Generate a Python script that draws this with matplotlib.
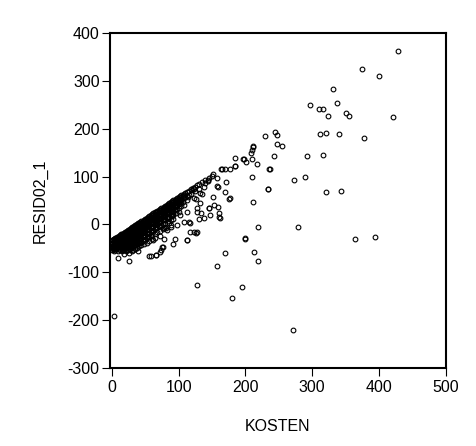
import numpy as np
import matplotlib.pyplot as plt

plt.rcParams['font.family'] = ['Liberation Sans', 'DejaVu Sans']
plt.rcParams['axes.unicode_minus'] = False

# --- DATA ---
# scattered points (KOSTEN, RESID02_1)
sparse_kosten = [429, 375.5, 401, 331, 296.5, 310.5, 316.5, 337.6, 324, 350.5, 355, 421.6,
                 244.5, 247.5, 312, 320.5, 340, 378, 247, 255.5, 242.5, 293, 316, 237.5,
                 273.5, 289.6, 321, 343.6, 234.5, 279.5, 364, 394.6, 272, 3, 127.5, 180,
                 195, 157.5, 169, 213, 218.5, 199, 219, 212, 230, 212, 210.5, 208, 184.5,
                 185, 197.5, 201.5, 210.5, 217.5, 209.5, 177.5, 170, 165, 163.5, 152, 157,
                 171.5, 169, 151.5, 143.5, 175.5, 145.5, 159.5, 160.5, 133, 89.5, 112.5,
                 126, 55, 65.5, 72.5, 9.5, 25, 17.5, 38.5, 75, 61, 77.5, 91.5, 94.5, 82.5,
                 85, 91, 102.5, 107.5, 117.5, 112.5, 127.5, 132.5, 135, 122.5, 114, 140,
                 137.5, 132.5, 122.5, 120, 158.5, 176.5, 152.5, 144, 157, 211.5, 196.5,
                 184, 235, 233.5, 126.5, 128, 145, 147.6, 160, 161.5, 137.5, 131, 127.5,
                 199, 112, 122.5, 76.5, 73.5, 66, 59, 80.5, 115, 116.5, 97, 88, 78]
sparse_resid = [362, 324, 311, 283.6, 248.6, 241, 241, 253.6, 227, 233, 226, 225,
                193, 186.5, 189, 190.7, 190, 181.5, 168, 164, 142.5, 144, 145, 116,
                92, 100, 67.7, 70.4, 74, -6.3, -31, -26.6, -221, -192, -126.6, -154,
                -130.8, -86, -59.5, -56.6, -77, -31, -5, 46.7, 185, 162, 156, 150, 139,
                121.5, 136, 131, 137.5, 127, 100, 115, 115, 115, 115, 106, 79.6,
                88, 67.7, 57, 93.5, 53.7, 34, 37, 14.7, 23, 18, -32,
                -17, -66.5, -63, -56.6, -71, -77, -61, -56, -48, -33, -31, -41, -30, -12,
                2, 19.5, 19.5, 5.5, 2, 25.8, 33.5, 44, 63.5, 54.5, 58, 86,
                79, 65, 75, 72, 79, 54.5, 40, 91, 96, 164, 137,
                122, 115, 74, 53, 26.4, 33.5, 19.5, 23, 14, 14, 11, -15.5,
                -29, -33, -15.5, -47, -54, -63, -66, -8, 5.5, -15.5, -1.5, -5, -8]

# dense band near the origin: (KOSTEN, [RESID02_1 values])
band_cols = [
    (0.5, [-33, -40, -47, -53]),
    (1.5, [-32, -38, -45, -51]),
    (2.5, [-31, -36, -43, -49, -55]),
    (3.5, [-30, -35, -42, -50]),
    (4.5, [-29, -34, -40, -46, -53]),
    (6, [-28, -33, -38, -44, -52]),
    (7, [-27, -31, -36, -43, -49]),
    (8.5, [-26, -30, -35, -41, -47, -55]),
    (10, [-24, -29, -34, -40, -46, -52]),
    (11.5, [-23, -27, -33, -38, -45, -54]),
    (13, [-21, -26, -31, -37, -44, -50]),
    (14.5, [-20, -24, -29, -35, -42, -49, -56]),
    (16, [-19, -23, -28, -34, -40, -47, -53]),
    (17.5, [-17, -21, -26, -32, -39, -45, -52]),
    (19, [-16, -20, -25, -31, -37, -44, -50]),
    (20.5, [-15, -18, -23, -29, -36, -42, -49, -56]),
    (22, [-13, -17, -22, -28, -34, -41, -48, -54]),
    (23.5, [-12, -15, -20, -26, -33, -40, -46, -53]),
    (25, [-11, -14, -19, -25, -31, -38, -45, -52, -59]),
    (26.5, [-9, -13, -18, -23, -30, -37, -44, -51]),
    (28, [-8, -11, -16, -22, -28, -35, -42, -49]),
    (29.5, [-6, -10, -15, -21, -27, -34, -40, -47, -55]),
    (31, [-5, -8, -13, -19, -26, -32, -39, -46, -53]),
    (32.5, [-4, -7, -12, -18, -24, -31, -38, -45]),
    (34, [-2, -5, -10, -16, -23, -29, -36, -44, -51]),
    (35.5, [-1, -4, -9, -15, -21, -28, -35, -42]),
    (37, [0, -3, -8, -14, -20, -27, -34, -41, -49]),
    (38.5, [2, -1, -6, -12, -19, -25, -32, -40]),
    (40, [3, 0, -5, -11, -17, -24, -31, -38, -46]),
    (42, [5, 2, -3, -9, -15, -22, -30, -37]),
    (44, [7, 4, -1, -7, -13, -20, -28, -36, -44]),
    (46, [8, 5, 1, -5, -11, -18, -26, -34]),
    (48, [10, 7, 2, -3, -9, -16, -24, -32, -41]),
    (50, [12, 9, 4, -1, -7, -14, -22, -30]),
    (52, [14, 11, 6, 1, -5, -12, -20, -29, -38]),
    (54, [16, 12, 8, 2, -4, -10, -18, -27]),
    (56, [17, 14, 10, 4, -2, -9, -17, -25, -35]),
    (58, [19, 16, 11, 6, 0, -7, -15, -24]),
    (60, [21, 18, 13, 8, 2, -5, -13, -22, -31]),
    (62, [23, 20, 15, 10, 3, -4, -12]),
    (64, [25, 22, 17, 12, 5, -2, -10, -19, -28]),
    (66, [26, 23, 19, 13, 7, 0, -8]),
    (68, [28, 25, 21, 15, 9, 2, -6, -16]),
    (70, [30, 27, 22, 17, 11, 4, -4]),
    (72, [32, 29, 24, 19, 12, 5, -3, -13, -24]),
    (74, [34, 31, 26, 20, 14, 7, -1]),
    (76, [35, 32, 28, 22, 16, 9, 1, -9]),
    (78, [37, 34, 30, 24, 17, 10]),
    (80, [39, 36, 31, 26, 19, 12, 4, -6]),
    (82, [41, 38, 33, 27, 21, 13]),
    (84, [43, 40, 35, 29, 22, 15, 7]),
    (86, [44, 41, 36, 31, 24, 16]),
    (88, [46, 43, 38, 32, 26, 18, 9, -2]),
    (90, [48, 45, 40, 34, 27, 20]),
    (92, [50, 47, 42, 36, 29, 21, 12]),
    (94, [52, 49, 44, 37, 30]),
    (96, [53, 50, 45, 39, 32, 24]),
    (98, [55, 52, 47, 41, 33]),
    (100, [57, 54, 49, 43, 35, 27]),
    (102, [59, 56, 50, 44]),
    (104, [61, 52, 46, 38]),
    (106, [62, 59, 47]),
    (108, [64, 56, 41]),
    (110, [66, 57]),
    (112, [68, 59, 51]),
    (115, [70, 62]),
    (118, [73, 64]),
    (121, [76]),
    (124, [79, 70]),
    (128, [82]),
    (131, [85, 74]),
    (135, [88]),
    (139, [92]),
    (146, [98]),
    (150, [102]),
]

x_ticks = [0, 100, 200, 300, 400, 500]
y_ticks = [-300, -200, -100, 0, 100, 200, 300, 400]

# --- PLOT ---
band_x = [x for x, ys in band_cols for _ in ys]
band_y = [y for _, ys in band_cols for y in ys]
kosten = np.array(sparse_kosten + band_x)
resid = np.array(sparse_resid + band_y)

fig = plt.figure(figsize=(4.77, 4.46), dpi=100)
ax = fig.add_axes([0.2306, 0.1749, 0.7034, 0.7511])
ax.plot(kosten, resid, linestyle='none', marker='o', ms=3.4,
        mfc='none', mec='black', mew=0.8)

ax.set_xlim(-3, 500)
ax.set_ylim(-300, 400)
ax.set_xticks(x_ticks)
ax.set_yticks(y_ticks)
ax.tick_params(direction='out', length=6, width=0.8, labelsize=11.5)
ax.tick_params(axis='x', pad=3)
ax.tick_params(axis='y', pad=1.5)
for s in ax.spines.values():
    s.set_linewidth(1.5)
ax.set_xlabel("KOSTEN", fontsize=11.5, labelpad=17)
ax.set_ylabel("RESID02_1", fontsize=11.5, labelpad=14)

fig.savefig("out.png", dpi=100)
